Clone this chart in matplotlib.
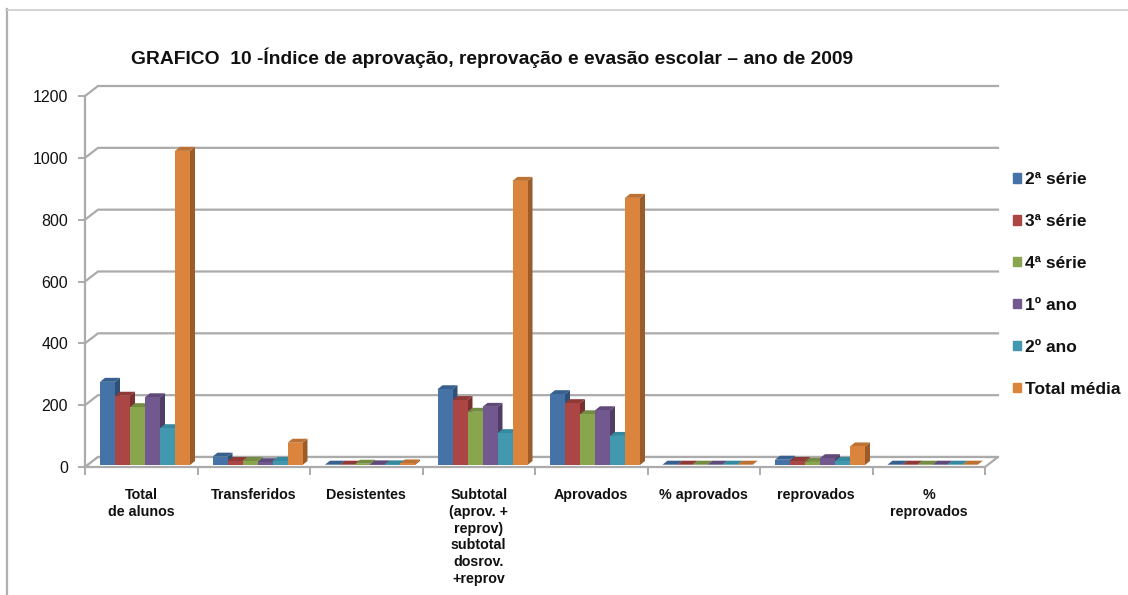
import matplotlib
matplotlib.use('Agg')
import matplotlib.pyplot as plt
from matplotlib.lines import Line2D
from matplotlib.patches import Patch

plt.rcParams['font.family'] = ['Liberation Sans', 'DejaVu Sans']

categories = ['Total\nde alunos', 'Transferidos', 'Desistentes',
              'Subtotal\n(aprov. +\nreprov)\nsubtotal\ndosrov.\n+reprov',
              'Aprovados', '% aprovados', 'reprovados', '%\nreprovados']
serie_2 = [269, 27, 1, 245, 229, 1, 17, 1]
serie_3 = [224, 13, 1, 210, 200, 1, 13, 1]
serie_4 = [187, 13, 4, 172, 164, 1, 10, 1]
ano_1 = [219, 9, 2, 188, 177, 1, 22, 1]
ano_2 = [119, 13, 2, 103, 94, 1, 13, 1]
total = [1016, 72, 5, 919, 864, 1, 60, 1]
series = [serie_2, serie_3, serie_4, ano_1, ano_2, total]
names = ['2ª série', '3ª série', '4ª série', '1º ano', '2º ano', 'Total média']
yticks = [0, 200, 400, 600, 800, 1000, 1200]

colors = ['#4572a7', '#aa4643', '#89a54e', '#71588f', '#4198af', '#db843d']
sides = ['#2f5077', '#7a302e', '#617638', '#4f3d66', '#2c6c7e', '#9c5c2a']
tops = ['#38608f', '#8f3a37', '#748c42', '#5f4a79', '#368a9f', '#bd7233']
GRID = '#ababab'
TEXT = '#111111'

fig = plt.figure(figsize=(11.28, 5.95), dpi=100)
ax = fig.add_axes([85 / 1128, 1 - 467 / 595, 900 / 1128, 371 / 595])
ax.set_xlim(0, 8)
ax.set_ylim(0, 1200)
ax.axis('off')

# px to data units
px_x = 8 / 900
px_y = 1200 / 371
wall_dx, wall_dy = 13 * px_x, 10 * px_y
bar_w = 15 * px_x
depth_x, depth_y = 5 * px_x, 4 * px_y
base = 2 * px_y

# back wall, floor
for t in yticks:
    ax.plot([0, wall_dx, 8 + wall_dx], [t, t + wall_dy, t + wall_dy],
            color=GRID, lw=1.6, clip_on=False, zorder=1, solid_joinstyle='miter')
    ax.plot([-6 * px_x, 0], [t, t], color=GRID, lw=1.4, clip_on=False, zorder=1)
ax.fill([0, wall_dx, 8 + wall_dx, 8], [0, wall_dy, wall_dy, 0], color='white', zorder=1.5)
ax.plot([0, wall_dx, 8 + wall_dx, 8, 0], [0, wall_dy, wall_dy, 0, 0],
        color=GRID, lw=1.6, clip_on=False, zorder=1.6)
ax.plot([0, 0], [0, 1200], color=GRID, lw=1.6, clip_on=False, zorder=1.6)
for i in range(9):
    ax.plot([i, i], [0, -7 * px_y], color=GRID, lw=1.4, clip_on=False, zorder=1.6)

# bars with their side and top faces
for k, vals in enumerate(series):
    xs = [i + (15 + 15 * k) * px_x for i in range(8)]
    ax.bar(xs, vals, width=bar_w, bottom=base, align='edge', color=colors[k],
           zorder=3 + k * 0.01, clip_on=False, linewidth=0)
    for x, v in zip(xs, vals):
        y = v + base
        ax.fill([x + bar_w, x + bar_w + depth_x, x + bar_w + depth_x, x + bar_w],
                [base, base + depth_y, y + depth_y, y],
                color=sides[k], lw=0, zorder=2.9 + k * 0.01, clip_on=False)
        ax.fill([x, x + depth_x, x + bar_w + depth_x, x + bar_w],
                [y, y + depth_y, y + depth_y, y],
                color=tops[k], lw=0, zorder=2.9 + k * 0.01, clip_on=False)

# labels
for t in yticks:
    ax.text(-17 * px_x, t - 1.5 * px_y, str(t), ha='right', va='center', fontsize=11.5,
            color=TEXT, clip_on=False)
for i, c in enumerate(categories):
    ax.text(i + 0.5, -21 * px_y, c, ha='center', va='top', fontsize=10.3, fontweight='bold',
            color=TEXT, linespacing=1.25, clip_on=False)

fig.text(131 / 1128, 1 - 58 / 595, 'GRAFICO  10 -Índice de aprovação, reprovação e evasão escolar – ano de 2009',
         ha='left', va='center', fontsize=13.85, fontweight='bold', color=TEXT)

handles = [Patch(color=c) for c in colors]
fig.legend(handles, names, loc='upper left', bbox_to_anchor=(1013 / 1128, 1 - 172 / 595),
           frameon=False, prop={'size': 12.5, 'weight': 'bold'}, handlelength=0.47,
           handleheight=0.47, handletextpad=0.22, labelspacing=1.55, borderpad=0, borderaxespad=0,
           labelcolor=TEXT)

# picture frame
fig.add_artist(Line2D([7 / 1128, 7 / 1128], [0, 1 - 9 / 595], color='#b0b0b0', lw=1.6))
fig.add_artist(Line2D([6 / 1128, 1], [1 - 9.5 / 595, 1 - 9.5 / 595], color='#cccccc', lw=1.2))

fig.savefig('out.png', dpi=100)
